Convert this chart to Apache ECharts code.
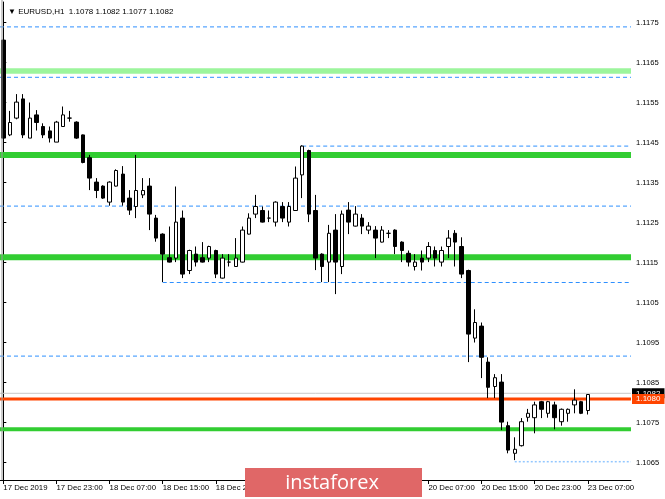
<!DOCTYPE html>
<html><head><meta charset="utf-8">
<script src="https://cdn.jsdelivr.net/npm/echarts@6/dist/echarts.min.js"></script>
<style>html,body{margin:0;padding:0;background:#fff}#c{width:665px;height:499px}</style>
</head><body><div id="c"></div>
<script>
const symbolName = 'EURUSD,H1';
const tickLabels = ['17 Dec 2019','17 Dec 23:00','18 Dec 07:00','18 Dec 15:00','18 Dec 23:00','19 Dec 07:00','19 Dec 15:00','19 Dec 23:00','20 Dec 07:00','20 Dec 15:00','20 Dec 23:00','23 Dec 07:00'];
const opens = [1.11706,1.11469,1.11511,1.11559,1.11461,1.11519,1.11490,1.11479,1.11451,1.11490,
1.11511,1.11501,1.11469,1.11412,1.11351,1.11341,1.11301,1.11341,1.11371,1.11311,
1.11290,1.11319,1.11341,1.11261,1.11221,1.11162,1.11161,1.11261,1.11130,1.11171,
1.11162,1.11161,1.11180,1.11111,1.11151,1.11140,1.11151,1.11221,1.11271,1.11280,
1.11261,1.11251,1.11290,1.11251,1.11280,1.11369,1.11430,1.11280,1.11171,1.11151,
1.11231,1.11140,1.11281,1.11241,1.11261,1.11231,1.11231,1.11201,1.11223,1.11231,
1.11201,1.11173,1.11140,1.11161,1.11161,1.11180,1.11151,1.11190,1.11223,1.11190,
1.11130,1.10961,1.10991,1.10901,1.10840,1.10851,1.10742,1.10673,1.10692,1.10763,
1.10762,1.10802,1.10773,1.10794,1.10752,1.10773,1.10794,1.10802,1.1078];
const closes = [1.11461,1.11500,1.11551,1.11469,1.11511,1.11500,1.11469,1.11461,1.11501,1.11519,
1.11511,1.11461,1.11400,1.11361,1.11330,1.11311,1.11351,1.11380,1.11301,1.11281,
1.11330,1.11330,1.11271,1.11211,1.11171,1.11151,1.11251,1.11121,1.11180,1.11151,
1.11151,1.11190,1.11121,1.11161,1.11151,1.11161,1.11231,1.11261,1.11290,1.11251,
1.11261,1.11301,1.11261,1.11290,1.11361,1.11441,1.11271,1.11161,1.11140,1.11223,
1.11151,1.11271,1.11251,1.11271,1.11241,1.11241,1.11211,1.11231,1.11223,1.11190,
1.11180,1.11151,1.11151,1.11151,1.11190,1.11161,1.11180,1.11211,1.11201,1.11121,
1.10971,1.11000,1.10913,1.10838,1.10862,1.10751,1.10681,1.10683,1.10752,1.10773,
1.10794,1.10783,1.10802,1.10762,1.10783,1.10783,1.10806,1.10773,1.1082];
const lows = [1.11439,1.11466,1.11508,1.11461,1.11461,1.11480,1.11461,1.11450,1.11451,1.11490,
1.11502,1.11459,1.11398,1.11331,1.11311,1.11309,1.11292,1.11340,1.11292,1.11269,
1.11261,1.11311,1.11231,1.11202,1.11101,1.11150,1.11151,1.11111,1.11121,1.11140,
1.11150,1.11151,1.11111,1.11110,1.11140,1.11139,1.11150,1.11220,1.11261,1.11250,
1.11251,1.11240,1.11251,1.11240,1.11279,1.11311,1.11251,1.11131,1.11101,1.11101,
1.11071,1.11121,1.11221,1.11240,1.11221,1.11221,1.11161,1.11200,1.11211,1.11171,
1.11151,1.11140,1.11130,1.11130,1.11151,1.11140,1.11140,1.11161,1.11140,1.11111,
1.10901,1.10950,1.10861,1.10811,1.10811,1.10731,1.10673,1.10656,1.10690,1.10752,
1.10723,1.10761,1.10762,1.10733,1.10742,1.10752,1.10773,1.10771,1.1077];
const highs = [1.11716,1.11529,1.11571,1.11571,1.11550,1.11531,1.11498,1.11490,1.11504,1.11540,
1.11529,1.11503,1.11470,1.11419,1.11361,1.11343,1.11353,1.11383,1.11391,1.11331,
1.11419,1.11361,1.11361,1.11269,1.11223,1.11240,1.11340,1.11280,1.11182,1.11190,
1.11201,1.11192,1.11182,1.11171,1.11171,1.11211,1.11240,1.11273,1.11319,1.11290,
1.11280,1.11303,1.11301,1.11301,1.11390,1.11443,1.11432,1.11319,1.11173,1.11244,
1.11271,1.11280,1.11301,1.11291,1.11271,1.11251,1.11241,1.11241,1.11231,1.11233,
1.11203,1.11180,1.11171,1.11180,1.11201,1.11190,1.11190,1.11231,1.11231,1.11213,
1.11132,1.11033,1.11000,1.10913,1.10871,1.10871,1.10752,1.10713,1.10761,1.10784,
1.10802,1.10804,1.10804,1.10802,1.10785,1.10785,1.10833,1.10804,1.1082];
const priceTicks = [1.1065,1.1075,1.1085,1.1095,1.1105,1.1115,1.1125,1.1135,1.1145,1.1155,1.1165,1.1175];
const priceMin = 1.1060625, priceMax = 1.1180125;
const emptyBarsRight = 6;
const lightZoneLevel = 1.11629;
const greenZoneLevels = [1.11419, 1.11163, 1.10733];
const dashedLevels = [1.11739, 1.11613, 1.11291, 1.10916];
const partialDashedLevels = [1.11441, 1.11100];
const partialDashedStartBars = [45, 24];
const dottedLevel = 1.10652, dottedStartBar = 77;
const bidLevel = 1.10823, bidText = '1.1082';
const orangeLevel = 1.10809, orangeText = '1.1080';

const nBars = opens.length;
const nCats = nBars + emptyBarsRight;
const categories = [];
for (let i = 0; i < nCats; i++) categories.push(String(i));
const candleData = opens.map((o, i) => [o, closes[i], lows[i], highs[i]]);
const xEnd = nCats - 0.5;
const FONT = 'Liberation Sans';

function hLine(price, start, color, width, type, z, extra) {
  return Object.assign({
    type: 'line', xAxisIndex: 1, yAxisIndex: 0,
    data: [[start, price], [xEnd, price]],
    symbol: 'none', silent: true, z: z, animation: false,
    lineStyle: { color: color, width: width, type: type }
  }, extra || {});
}

const series = [];
series.push(hLine(lightZoneLevel, -0.5, '#9cf59c', 5.5, 'solid', 1));
greenZoneLevels.forEach((p, k) => series.push(hLine(p, -0.5, '#32cd32', k === 2 ? 4 : 6, 'solid', 1)));
dashedLevels.forEach(p => series.push(hLine(p, -0.5, '#2e90ff', 1, [4, 3], 2)));
partialDashedLevels.forEach((p, k) => series.push(hLine(p, partialDashedStartBars[k], '#2e90ff', 1, [4, 3], 2)));
series.push(hLine(dottedLevel, dottedStartBar, '#93c7ff', 1.5, [2, 2], 2));
series.push(hLine(bidLevel, -0.5, '#c8c8c8', 1, 'solid', 2, {
  endLabel: { show: true, formatter: bidText, color: '#fff', backgroundColor: '#000',
    fontSize: 8, fontFamily: FONT, padding: [1, 4, 1, 4], distance: 1 }
}));
series.push(hLine(orangeLevel, -0.5, '#ff4500', 3, 'solid', 3, {
  endLabel: { show: true, formatter: orangeText, color: '#fff', backgroundColor: '#ff4500',
    fontSize: 8, fontFamily: FONT, padding: [1, 4, 1, 4], distance: 1 }
}));
series.push({
  type: 'candlestick', xAxisIndex: 0, yAxisIndex: 0, data: candleData,
  barWidth: 4, silent: true, z: 5, animation: false,
  itemStyle: { color: '#ffffff', color0: '#000000', borderColor: '#000000', borderColor0: '#000000', borderWidth: 1 }
});

const last = nBars - 1;
const header = '\u25BC ' + symbolName + '  ' + opens[last].toFixed(4) + ' ' + highs[last].toFixed(4) + ' ' + lows[last].toFixed(4) + ' ' + closes[last].toFixed(4);

const chart = echarts.init(document.getElementById('c'), null, { renderer: 'canvas' });
chart.setOption({
  animation: false,
  backgroundColor: '#ffffff',
  title: { text: header, left: 3, top: 3, textStyle: { fontSize: 8, fontWeight: 'normal', color: '#000', fontFamily: FONT } },
  grid: { left: -0.5, right: 34, top: 2, bottom: 19, containLabel: false },
  xAxis: [{
    type: 'category', data: categories, boundaryGap: true,
    axisLine: { show: true, lineStyle: { color: '#000', width: 1 } },
    axisTick: { show: true, alignWithLabel: true, length: 4, lineStyle: { color: '#000' },
      interval: (i) => i % 8 === 0 && i < nBars },
    axisLabel: { show: true, interval: (i) => i % 8 === 0 && i < nBars, align: 'left', margin: 4,
      fontSize: 7.8, fontFamily: FONT, color: '#000',
      formatter: (v, i) => tickLabels[Math.round(Number(v) / 8)] || '' },
    splitLine: { show: false }
  }, {
    type: 'value', min: -0.5, max: xEnd, show: false
  }],
  yAxis: [{
    type: 'value', position: 'right', min: priceMin, max: priceMax, scale: true,
    axisLine: { show: true, lineStyle: { color: '#000', width: 1 } },
    axisTick: { show: true, length: 3, lineStyle: { color: '#000' }, customValues: priceTicks },
    axisLabel: { show: true, margin: 5, fontSize: 7.6, fontFamily: FONT, color: '#000',
      customValues: priceTicks, formatter: (v) => Number(v).toFixed(4) },
    splitLine: { show: false }
  }],
  graphic: [
    { type: 'line', shape: { x1: 2, y1: 0, x2: 2, y2: 480 }, style: { stroke: '#999', lineWidth: 1 }, z: 50 },
    { type: 'rect', shape: { x: 245, y: 468, width: 177, height: 29 }, style: { fill: '#e06767' }, z: 100 },
    { type: 'text', style: { text: 'instaforex', x: 332, y: 483, align: 'center', verticalAlign: 'middle',
      fill: '#ffffff', font: '20px "Open Sans"' }, z: 101 }
  ],
  series: series
});
</script>
</body></html>
